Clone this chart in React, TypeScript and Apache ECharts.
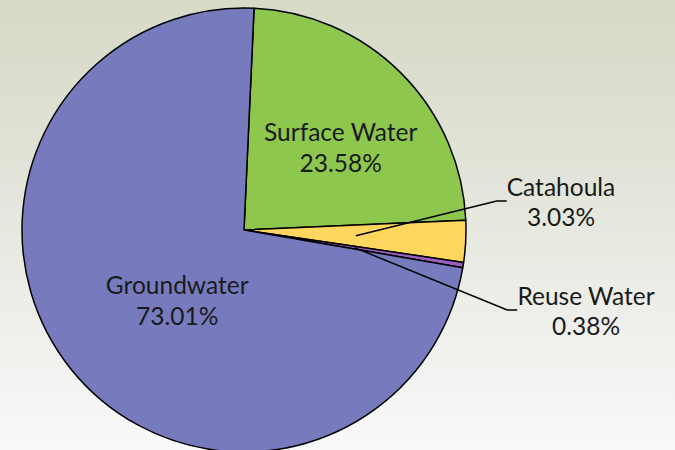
import React, { useEffect, useRef } from "react";
import * as echarts from "echarts";

const categories = ["Surface Water", "Catahoula", "Reuse Water", "Groundwater"];
const shares = [23.58, 3.03, 0.38, 73.01];
const colors = ["#8DC74E", "#FFD75F", "#9B5FC0", "#777BBE"];
const innerLabelled = ["Surface Water", "Groundwater"];
const outerLabelled = ["Catahoula", "Reuse Water"];

const FONT = "Lato";
const FONT_SIZE = 24.5;

export default function App() {
  const ref = useRef<HTMLDivElement>(null);
  useEffect(() => {
    document.body.style.margin = "0";
    const chart = echarts.init(ref.current!, null, { renderer: "svg" });
    const data = categories.map((name, i) => ({
      name,
      value: shares[i],
      itemStyle: { color: colors[i] },
    }));
    const center = [244, 230];
    const startAngle = 87.4;
    chart.setOption({
      animation: false,
      backgroundColor: {
        type: "linear",
        x: 0,
        y: 0,
        x2: 0,
        y2: 1,
        colorStops: [
          { offset: 0, color: "#D6DAC6" },
          { offset: 0.3, color: "#DFE1D4" },
          { offset: 0.65, color: "#ECEDE7" },
          { offset: 1, color: "#F8F9F9" },
        ],
      },
      series: [
        {
          type: "pie",
          z: 2,
          center,
          radius: 222,
          startAngle,
          clockwise: true,
          silent: true,
          data: data.map((d) => ({
            ...d,
            label: { show: innerLabelled.includes(d.name) },
          })),
          itemStyle: { borderColor: "#000", borderWidth: 1.5 },
          label: {
            position: "inner",
            formatter: (p: any) => `${p.name}\n${p.value.toFixed(2)}%`,
            color: "#1a1a1a",
            fontFamily: FONT,
            fontSize: FONT_SIZE,
            lineHeight: 31,
            align: "center",
          },
          labelLine: { show: false },
          labelLayout: (p: any) => {
            if (p.dataIndex === 0) return { dx: 16, dy: -2 };
            if (p.dataIndex === 3) return { dx: 22, dy: -1 };
            return {};
          },
        },
        {
          type: "pie",
          z: 5,
          center,
          radius: 112,
          startAngle,
          clockwise: true,
          silent: true,
          data: data.map((d) => ({
            ...d,
            itemStyle: { color: "rgba(0,0,0,0)", borderWidth: 0 },
            label: { show: outerLabelled.includes(d.name) },
            labelLine: { show: outerLabelled.includes(d.name) },
          })),
          label: {
            position: "outside",
            formatter: (p: any) => `${p.name}\n${p.value.toFixed(2)}%`,
            color: "#1a1a1a",
            fontFamily: FONT,
            fontSize: FONT_SIZE,
            lineHeight: 30,
            align: "center",
          },
          labelLine: {
            show: true,
            length: 20,
            length2: 10,
            lineStyle: { color: "#000", width: 1.5 },
          },
          labelLayout: (p: any) => {
            if (p.dataIndex === 1) return { x: 561, y: 201, align: "center", verticalAlign: "middle" };
            if (p.dataIndex === 2) return { x: 586, y: 310, align: "center", verticalAlign: "middle" };
            return {};
          },
        },
      ],
    });
    return () => chart.dispose();
  }, []);
  return <div ref={ref} style={{ width: 675, height: 450 }} />;
}
